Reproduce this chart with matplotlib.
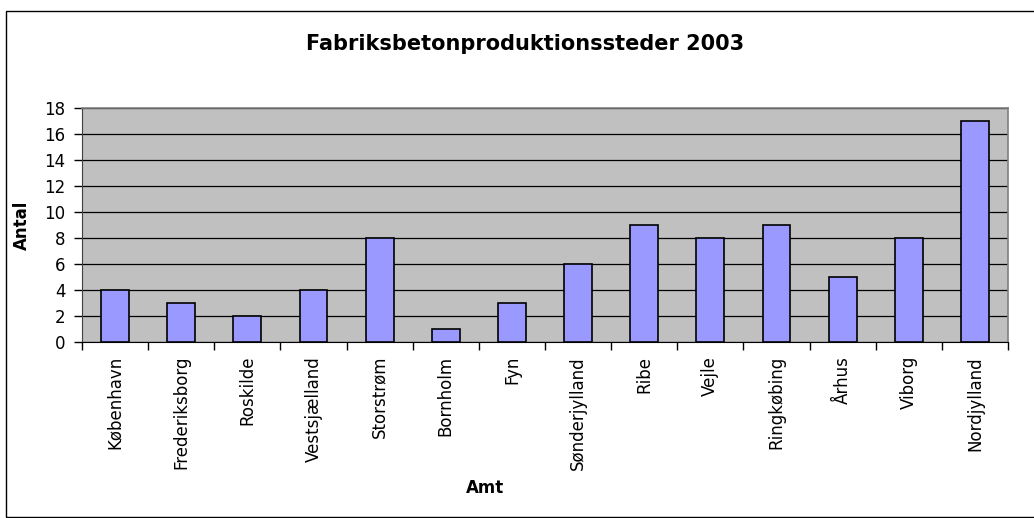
import matplotlib.pyplot as plt
import numpy as np

plt.rcParams['font.family'] = ['DejaVu Sans']

amter = ['København', 'Frederiksborg', 'Roskilde', 'Vestsjælland', 'Storstrøm',
         'Bornholm', 'Fyn', 'Sønderjylland', 'Ribe', 'Vejle', 'Ringkøbing',
         'Århus', 'Viborg', 'Nordjylland']
antal = [4, 3, 2, 4, 8, 1, 3, 6, 9, 8, 9, 5, 8, 17]
yticks = [0, 2, 4, 6, 8, 10, 12, 14, 16, 18]

fig = plt.figure(figsize=(10.34, 5.18), dpi=100)
W, H = 1034, 518

# outer chart border
fig.patches.append(plt.Rectangle((6 / W, 1 - 517 / H), 1.2, (517 - 11) / H,
                                 transform=fig.transFigure, fill=False,
                                 edgecolor='black', linewidth=1.0))

ax = fig.add_axes([82 / W, 1 - 342 / H, (1008 - 82) / W, (342 - 108) / H])
ax.set_facecolor('#c0c0c0')

x = np.arange(len(amter))
ax.bar(x, antal, width=0.42, color='#9999ff', edgecolor='black', linewidth=1.2, zorder=3)

ax.set_xlim(-0.5, len(amter) - 0.5)
ax.set_ylim(0, 18)
ax.set_yticks(yticks)
ax.set_yticklabels([str(t) for t in yticks], fontsize=12)
ax.yaxis.grid(True, color='black', linewidth=0.9, zorder=1)
ax.set_axisbelow(True)

ax.set_xticks(np.arange(len(amter) + 1) - 0.5)
ax.set_xticklabels([])
ax.set_xticks(x, minor=True)
ax.set_xticklabels(amter, minor=True, rotation=90, fontsize=12)
ax.tick_params(axis='x', which='minor', length=0, pad=10)
ax.tick_params(axis='x', which='major', length=6, width=1, color='black', direction='out')
ax.tick_params(axis='y', length=6, width=1, direction='out', pad=6)

for s in ['top', 'right']:
    ax.spines[s].set_color('#808080')
    ax.spines[s].set_linewidth(1.2)
ax.spines['left'].set_color('#404040')
ax.spines['bottom'].set_color('black')

fig.text(22 / W, 1 - 225 / H, 'Antal', fontsize=12, fontweight='bold', rotation=90,
         ha='center', va='center')
fig.text(485 / W, 1 - 488 / H, 'Amt', fontsize=12, fontweight='bold', ha='center', va='center')
fig.text(525 / W, 1 - 44 / H, 'Fabriksbetonproduktionssteder 2003', fontsize=15,
         fontweight='bold', ha='center', va='center')

fig.savefig('out.png', dpi=100)
